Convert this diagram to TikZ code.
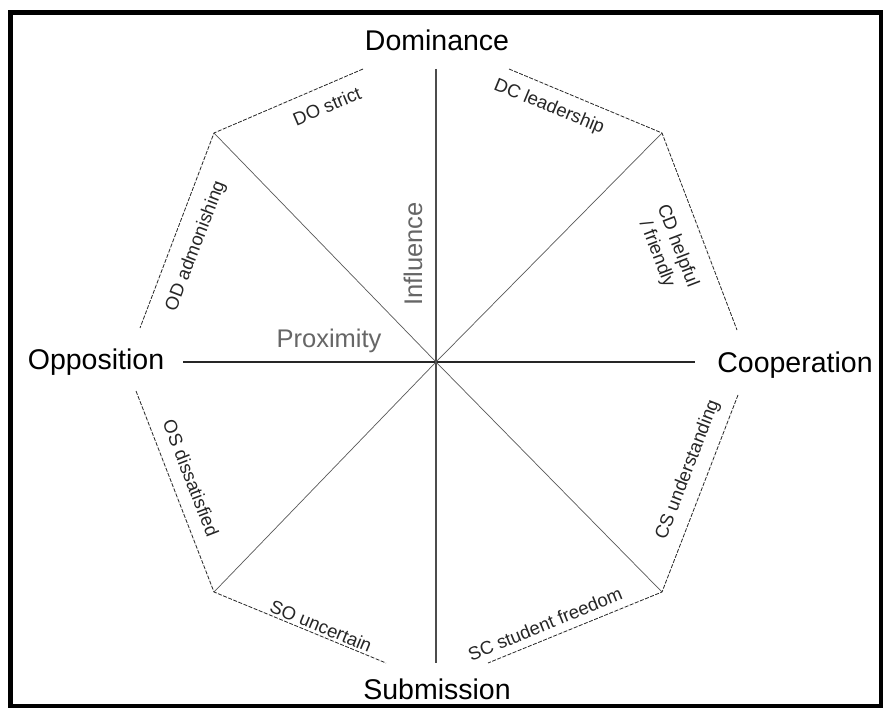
\documentclass[tikz,border=0pt]{standalone}
\usepackage{fontspec}
\setmainfont{Liberation Sans}
\begin{document}
\begin{tikzpicture}[x=1pt,y=-1pt,
  axislabel/.style={font=\fontsize{28.5}{31}\selectfont, text=black, inner sep=0pt},
  dimlabel/.style={font=\fontsize{25.5}{28}\selectfont, text=black!60, inner sep=0pt},
  edgelabel/.style={font=\fontsize{18.5}{22}\selectfont, text=black!85, inner sep=0pt, align=center},
  octedge/.style={draw=black!85, line width=0.8pt, dash pattern=on 4pt off 1.5pt},
  diag/.style={draw=black!65, line width=0.7pt},
  axis/.style={draw=black!70, line width=1.1pt}]
\useasboundingbox (0,0) rectangle (883,708);
\fill[white] (0,0) rectangle (883,708);
\draw[line width=5pt] (10.5,12.5) rectangle (881.5,706);
% centre and vertices
\coordinate (c) at (436,362);
\coordinate (vtl) at (214,133);
\coordinate (vtr) at (662,133);
\coordinate (vbl) at (214,592);
\coordinate (vbr) at (662,592);
\coordinate (dox) at (363,69);
\coordinate (dcx) at (509,69);
\coordinate (odx) at (140,328);
\coordinate (osx) at (136,391);
\coordinate (cdx) at (737,330);
\coordinate (csx) at (738,395);
\coordinate (sox) at (386,663);
\coordinate (scx) at (488,663);
\coordinate (vt) at (436,69);
\coordinate (vb) at (436,663);
\coordinate (hl) at (183,362);
\coordinate (hr) at (695,362);
% axes
\draw[axis] (vt) -- (vb);
\draw[axis, draw=black!85] (hl) -- (hr);
% diagonals
\draw[diag] (vtl) -- (c);
\draw[diag] (vtr) -- (c);
\draw[diag] (vbl) -- (c);
\draw[diag] (vbr) -- (c);
% octagon edges
\draw[octedge] (dox) -- (vtl) -- (odx);
\draw[octedge] (dcx) -- (vtr) -- (cdx);
\draw[octedge] (osx) -- (vbl) -- (sox);
\draw[octedge] (csx) -- (vbr) -- (scx);
% main labels
\node[axislabel] (dom) at (437,40) {Dominance};
\node[axislabel] (opp) at (96,362) {Opposition};
\node[axislabel] (coop) at (795,365) {Cooperation};
\node[axislabel] (sub) at (437,689) {Submission};
\node[dimlabel] (prox) at (329,341) {Proximity};
\node[dimlabel, rotate=90] (infl) at (413,254) {Influence};
% edge labels
\node[edgelabel, rotate=23] (do) at (327,106) {DO strict};
\node[edgelabel, rotate=-22.4] (dc) at (549,107) {DC leadership};
\node[edgelabel, rotate=-69] (cd) at (667,250) {CD helpful\\/ friendly};
\node[edgelabel, rotate=69] (cs) at (688,470) {CS understanding};
\node[edgelabel, rotate=22.2] (sc) at (545,624) {SC student freedom};
\node[edgelabel, rotate=-22.4] (so) at (321,626) {SO uncertain};
\node[edgelabel, rotate=-68.7] (os) at (191,478) {OS dissatisfied};
\node[edgelabel, rotate=69] (od) at (196,246) {OD admonishing};
\end{tikzpicture}
\end{document}
